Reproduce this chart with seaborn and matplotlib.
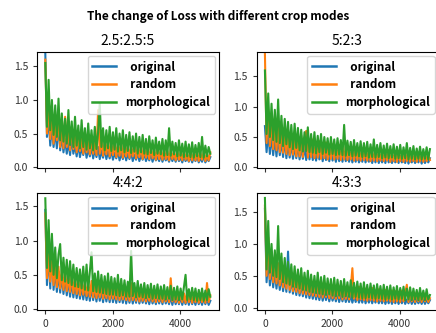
import numpy as np
import pandas as pd
import matplotlib
matplotlib.use("Agg")
import matplotlib.pyplot as plt
import seaborn as sns

plt.rcParams['font.family'] = ['Noto Sans CJK SC', 'DejaVu Sans']
plt.rcParams['axes.unicode_minus'] = False

# 迭代步数（每 49 步记录一次 loss）
steps = np.arange(101) * 49

modes = ["  original", "  random", "morphological"]
titles = ["2.5:2.5:5", "5:2:3", "4:4:2", "4:3:3"]

# 2.5:2.5:5
loss_a_original = [
    1.70, 0.45, 0.75, 0.32, 0.62, 0.30, 0.55, 0.28, 0.70, 0.25,
    0.48, 0.22, 0.42, 0.20, 0.38, 0.18, 0.45, 0.20, 0.33, 0.16,
    0.36, 0.15, 0.30, 0.18, 0.34, 0.14, 0.28, 0.16, 0.32, 0.13,
    0.27, 0.15, 0.30, 0.12, 0.25, 0.14, 0.29, 0.12, 0.24, 0.13,
    0.26, 0.11, 0.22, 0.13, 0.25, 0.10, 0.21, 0.12, 0.24, 0.10,
    0.20, 0.12, 0.23, 0.09, 0.19, 0.11, 0.22, 0.09, 0.18, 0.11,
    0.21, 0.09, 0.17, 0.10, 0.20, 0.08, 0.18, 0.10, 0.16, 0.09,
    0.19, 0.08, 0.17, 0.10, 0.15, 0.08, 0.18, 0.09, 0.16, 0.08,
    0.17, 0.09, 0.15, 0.07, 0.16, 0.09, 0.14, 0.08, 0.17, 0.07,
    0.15, 0.09, 0.16, 0.07, 0.14, 0.08, 0.17, 0.07, 0.13, 0.09,
    0.15]
loss_a_random = [
    1.60, 0.50, 0.95, 0.42, 0.80, 0.35, 0.68, 0.40, 0.75, 0.30,
    0.62, 0.28, 0.75, 0.30, 0.55, 0.25, 0.60, 0.27, 0.48, 0.22,
    0.50, 0.24, 0.45, 0.20, 0.52, 0.22, 0.42, 0.19, 0.46, 0.20,
    0.40, 0.18, 0.85, 0.20, 0.44, 0.17, 0.38, 0.19, 0.42, 0.16,
    0.36, 0.18, 0.40, 0.15, 0.34, 0.17, 0.38, 0.14, 0.33, 0.16,
    0.35, 0.14, 0.30, 0.16, 0.36, 0.13, 0.29, 0.15, 0.33, 0.12,
    0.30, 0.14, 0.27, 0.12, 0.31, 0.13, 0.26, 0.11, 0.29, 0.12,
    0.26, 0.11, 0.28, 0.12, 0.24, 0.10, 0.27, 0.12, 0.23, 0.10,
    0.25, 0.11, 0.22, 0.10, 0.26, 0.11, 0.21, 0.09, 0.24, 0.10,
    0.22, 0.10, 0.25, 0.09, 0.21, 0.11, 0.23, 0.09, 0.20, 0.10,
    0.22]
loss_a_morph = [
    1.55, 0.60, 1.30, 0.55, 1.00, 0.48, 0.92, 0.45, 1.02, 0.40,
    0.80, 0.38, 0.72, 0.35, 0.85, 0.33, 0.68, 0.30, 0.75, 0.32,
    0.62, 0.28, 0.70, 0.30, 0.58, 0.26, 0.65, 0.28, 0.55, 0.25,
    0.60, 0.27, 0.52, 0.95, 0.30, 0.58, 0.25, 0.55, 0.28, 0.60,
    0.24, 0.52, 0.26, 0.58, 0.23, 0.50, 0.25, 0.55, 0.22, 0.48,
    0.24, 0.52, 0.21, 0.46, 0.23, 0.50, 0.20, 0.45, 0.22, 0.48,
    0.20, 0.42, 0.19, 0.46, 0.21, 0.40, 0.18, 0.44, 0.20, 0.38,
    0.19, 0.42, 0.17, 0.40, 0.18, 0.58, 0.17, 0.38, 0.19, 0.36,
    0.16, 0.40, 0.17, 0.35, 0.15, 0.38, 0.16, 0.34, 0.15, 0.37,
    0.14, 0.33, 0.16, 0.36, 0.15, 0.45, 0.14, 0.32, 0.16, 0.30,
    0.20]

# 5:2:3
loss_b_original = [
    0.68, 0.25, 0.60, 0.22, 0.55, 0.20, 0.50, 0.18, 0.52, 0.20,
    0.45, 0.17, 0.48, 0.15, 0.40, 0.16, 0.42, 0.14, 0.36, 0.15,
    0.38, 0.13, 0.34, 0.14, 0.36, 0.12, 0.31, 0.13, 0.33, 0.12,
    0.30, 0.11, 0.28, 0.13, 0.32, 0.10, 0.27, 0.12, 0.30, 0.10,
    0.26, 0.11, 0.24, 0.09, 0.27, 0.10, 0.23, 0.09, 0.25, 0.10,
    0.22, 0.09, 0.24, 0.08, 0.21, 0.09, 0.23, 0.08, 0.20, 0.09,
    0.21, 0.08, 0.19, 0.09, 0.22, 0.07, 0.18, 0.08, 0.20, 0.07,
    0.19, 0.08, 0.17, 0.07, 0.20, 0.08, 0.16, 0.07, 0.18, 0.08,
    0.17, 0.07, 0.19, 0.08, 0.16, 0.07, 0.18, 0.06, 0.15, 0.08,
    0.17, 0.07, 0.15, 0.08, 0.16, 0.06, 0.17, 0.07, 0.14, 0.08,
    0.15]
loss_b_random = [
    1.87, 0.40, 0.95, 0.35, 0.85, 0.30, 0.80, 0.28, 0.75, 0.25,
    0.70, 0.24, 0.62, 0.22, 0.58, 0.20, 0.55, 0.21, 0.50, 0.18,
    0.48, 0.18, 0.52, 0.17, 0.45, 0.60, 0.16, 0.42, 0.17, 0.46,
    0.15, 0.40, 0.16, 0.43, 0.14, 0.38, 0.15, 0.41, 0.13, 0.36,
    0.14, 0.38, 0.13, 0.34, 0.14, 0.36, 0.12, 0.33, 0.13, 0.35,
    0.12, 0.32, 0.13, 0.30, 0.11, 0.33, 0.12, 0.29, 0.11, 0.31,
    0.12, 0.28, 0.11, 0.30, 0.10, 0.27, 0.11, 0.29, 0.10, 0.26,
    0.11, 0.27, 0.10, 0.25, 0.11, 0.28, 0.09, 0.24, 0.10, 0.26,
    0.09, 0.25, 0.10, 0.23, 0.09, 0.26, 0.10, 0.22, 0.09, 0.24,
    0.10, 0.22, 0.09, 0.24, 0.10, 0.21, 0.09, 0.23, 0.10, 0.20,
    0.12]
loss_b_morph = [
    1.60, 0.55, 1.22, 0.50, 1.05, 0.45, 0.95, 0.42, 1.12, 0.40,
    0.85, 0.35, 0.80, 0.38, 0.75, 0.33, 0.70, 0.30, 0.72, 0.32,
    0.65, 0.28, 0.62, 0.26, 0.58, 0.27, 0.66, 0.25, 0.55, 0.24,
    0.58, 0.23, 0.52, 0.25, 0.55, 0.22, 0.50, 0.24, 0.48, 0.21,
    0.50, 0.22, 0.46, 0.20, 0.48, 0.21, 0.45, 0.20, 0.70, 0.19,
    0.44, 0.20, 0.42, 0.18, 0.45, 0.19, 0.40, 0.18, 0.43, 0.17,
    0.40, 0.18, 0.42, 0.16, 0.38, 0.17, 0.46, 0.16, 0.37, 0.17,
    0.40, 0.15, 0.36, 0.16, 0.39, 0.15, 0.35, 0.16, 0.38, 0.14,
    0.34, 0.15, 0.37, 0.14, 0.33, 0.15, 0.40, 0.13, 0.32, 0.14,
    0.35, 0.13, 0.31, 0.14, 0.34, 0.13, 0.30, 0.14, 0.33, 0.13,
    0.30]

# 4:4:2
loss_c_original = [
    1.45, 0.35, 0.85, 0.30, 1.03, 0.28, 0.60, 0.25, 0.55, 0.24,
    0.50, 0.22, 0.48, 0.20, 0.45, 0.18, 0.42, 0.17, 0.38, 0.16,
    0.36, 0.15, 0.34, 0.14, 0.32, 0.13, 0.30, 0.12, 0.33, 0.13,
    0.29, 0.11, 0.30, 0.12, 0.27, 0.10, 0.28, 0.11, 0.26, 0.10,
    0.27, 0.10, 0.24, 0.09, 0.26, 0.10, 0.23, 0.09, 0.25, 0.08,
    0.22, 0.09, 0.24, 0.08, 0.21, 0.09, 0.23, 0.08, 0.20, 0.09,
    0.21, 0.08, 0.19, 0.07, 0.20, 0.08, 0.18, 0.07, 0.19, 0.08,
    0.18, 0.07, 0.20, 0.08, 0.17, 0.07, 0.19, 0.06, 0.18, 0.07,
    0.17, 0.07, 0.18, 0.06, 0.16, 0.07, 0.17, 0.06, 0.18, 0.07,
    0.16, 0.06, 0.17, 0.07, 0.15, 0.06, 0.16, 0.07, 0.15, 0.06,
    0.12]
loss_c_random = [
    1.40, 0.45, 0.80, 0.40, 0.70, 0.35, 0.65, 0.32, 0.62, 0.30,
    0.58, 0.28, 0.55, 0.26, 0.50, 0.25, 0.52, 0.23, 0.45, 0.22,
    0.44, 0.20, 0.42, 0.21, 0.40, 0.19, 0.38, 0.18, 0.41, 0.17,
    0.37, 0.16, 0.35, 0.17, 0.38, 0.15, 0.33, 0.16, 0.36, 0.14,
    0.33, 0.15, 0.31, 0.14, 0.34, 0.13, 0.30, 0.14, 0.32, 0.13,
    0.29, 0.12, 0.38, 0.13, 0.28, 0.12, 0.30, 0.11, 0.27, 0.12,
    0.28, 0.11, 0.26, 0.12, 0.29, 0.11, 0.25, 0.10, 0.27, 0.11,
    0.25, 0.10, 0.27, 0.11, 0.24, 0.10, 0.45, 0.11, 0.26, 0.10,
    0.24, 0.09, 0.25, 0.10, 0.23, 0.09, 0.26, 0.10, 0.22, 0.09,
    0.24, 0.10, 0.21, 0.09, 0.23, 0.10, 0.22, 0.09, 0.38, 0.10,
    0.20]
loss_c_morph = [
    1.62, 0.60, 1.30, 0.55, 1.10, 0.50, 0.90, 0.45, 0.80, 0.95,
    0.42, 0.75, 0.40, 0.72, 0.38, 0.70, 0.35, 0.65, 0.33, 0.60,
    0.32, 0.58, 0.30, 0.62, 0.28, 0.65, 0.27, 0.55, 0.83, 0.26,
    0.52, 0.25, 0.55, 0.24, 0.50, 0.23, 0.48, 0.22, 0.52, 0.21,
    0.47, 0.21, 0.45, 0.20, 0.50, 0.19, 0.44, 0.20, 0.42, 0.18,
    0.40, 0.18, 0.85, 0.19, 0.38, 0.17, 0.41, 0.18, 0.36, 0.17,
    0.38, 0.16, 0.35, 0.17, 0.37, 0.15, 0.34, 0.16, 0.36, 0.15,
    0.33, 0.15, 0.35, 0.14, 0.32, 0.15, 0.34, 0.13, 0.31, 0.14,
    0.33, 0.13, 0.30, 0.14, 0.32, 0.50, 0.13, 0.29, 0.14, 0.31,
    0.13, 0.30, 0.12, 0.28, 0.13, 0.30, 0.12, 0.27, 0.13, 0.29,
    0.18]

# 4:3:3
loss_d_original = [
    1.55, 0.40, 0.80, 0.35, 0.65, 0.32, 0.58, 0.30, 0.55, 0.28,
    0.52, 0.26, 0.48, 0.25, 0.88, 0.24, 0.45, 0.22, 0.42, 0.20,
    0.40, 0.19, 0.36, 0.18, 0.34, 0.16, 0.32, 0.15, 0.30, 0.14,
    0.28, 0.13, 0.26, 0.12, 0.27, 0.11, 0.25, 0.12, 0.24, 0.10,
    0.23, 0.11, 0.22, 0.10, 0.24, 0.09, 0.21, 0.10, 0.22, 0.09,
    0.20, 0.09, 0.21, 0.08, 0.19, 0.09, 0.20, 0.08, 0.18, 0.08,
    0.19, 0.07, 0.17, 0.08, 0.18, 0.07, 0.16, 0.08, 0.17, 0.07,
    0.16, 0.07, 0.17, 0.06, 0.15, 0.07, 0.16, 0.06, 0.15, 0.07,
    0.15, 0.06, 0.14, 0.07, 0.16, 0.06, 0.13, 0.07, 0.15, 0.06,
    0.14, 0.06, 0.15, 0.07, 0.13, 0.06, 0.14, 0.06, 0.13, 0.07,
    0.12]
loss_d_random = [
    1.60, 0.50, 1.10, 0.45, 0.85, 0.40, 0.75, 0.38, 0.70, 0.35,
    0.65, 0.32, 0.60, 0.30, 0.58, 0.28, 0.55, 0.26, 0.52, 0.25,
    0.48, 0.23, 0.50, 0.22, 0.45, 0.21, 0.42, 0.20, 0.44, 0.19,
    0.40, 0.18, 0.38, 0.17, 0.41, 0.16, 0.36, 0.17, 0.38, 0.15,
    0.35, 0.15, 0.37, 0.14, 0.33, 0.15, 0.36, 0.13, 0.32, 0.14,
    0.34, 0.13, 0.30, 0.62, 0.14, 0.31, 0.12, 0.33, 0.13, 0.29,
    0.12, 0.30, 0.11, 0.28, 0.12, 0.31, 0.11, 0.27, 0.10, 0.29,
    0.11, 0.27, 0.10, 0.28, 0.11, 0.25, 0.10, 0.27, 0.09, 0.26,
    0.10, 0.25, 0.09, 0.27, 0.10, 0.24, 0.36, 0.09, 0.25, 0.10,
    0.23, 0.09, 0.25, 0.10, 0.22, 0.09, 0.24, 0.10, 0.21, 0.09,
    0.15]
loss_d_morph = [
    1.72, 0.60, 1.36, 0.55, 1.00, 0.50, 0.90, 0.48, 1.28, 0.45,
    0.85, 0.40, 0.78, 0.38, 0.72, 0.36, 0.68, 0.33, 0.65, 0.32,
    0.60, 0.30, 0.62, 0.28, 0.55, 0.27, 0.58, 0.25, 0.52, 0.24,
    0.50, 0.23, 0.55, 0.22, 0.48, 0.21, 0.50, 0.20, 0.46, 0.21,
    0.45, 0.19, 0.47, 0.18, 0.44, 0.19, 0.42, 0.17, 0.45, 0.18,
    0.40, 0.17, 0.43, 0.16, 0.39, 0.17, 0.41, 0.16, 0.38, 0.15,
    0.40, 0.15, 0.36, 0.16, 0.38, 0.15, 0.35, 0.14, 0.37, 0.15,
    0.34, 0.14, 0.36, 0.13, 0.33, 0.14, 0.35, 0.13, 0.32, 0.14,
    0.34, 0.13, 0.31, 0.14, 0.33, 0.12, 0.30, 0.13, 0.32, 0.12,
    0.30, 0.13, 0.28, 0.12, 0.31, 0.13, 0.27, 0.12, 0.29, 0.13,
    0.20]

all_losses = [
    (loss_a_original, loss_a_random, loss_a_morph),
    (loss_b_original, loss_b_random, loss_b_morph),
    (loss_c_original, loss_c_random, loss_c_morph),
    (loss_d_original, loss_d_random, loss_d_morph),
]
ylims = [(-0.02, 1.71), (-0.02, 1.90), (-0.01, 1.69), (-0.03, 1.79)]

fig, axes = plt.subplots(2, 2, figsize=(4.36, 3.33), dpi=100)
fig.subplots_adjust(left=0.085, right=1.005, top=0.843, bottom=0.07,
                    wspace=0.21, hspace=0.215)

for ax, title, losses, yl in zip(axes.flat, titles, all_losses, ylims):
    df = pd.concat([
        pd.DataFrame({"step": steps, "loss": vals, "mode": m})
        for m, vals in zip(modes, losses)
    ])
    sns.lineplot(data=df, x="step", y="loss", hue="mode", hue_order=modes,
                 palette="tab10", linewidth=1.5, ax=ax)
    ax.set_title(title, fontsize=10, pad=5)
    ax.set_xlabel("")
    ax.set_ylabel("")
    ax.set_ylim(*yl)
    ax.set_xticks([0, 2000, 4000])
    ax.set_yticks([0.0, 0.5, 1.0, 1.5])
    ax.tick_params(labelsize=7.5, length=3, colors="#333333")
    leg = ax.legend(loc="upper right", prop={"weight": "bold", "size": 8.5},
                    labelspacing=0.4, borderaxespad=0.3, handlelength=2.0)
    for line in leg.get_lines():
        line.set_linewidth(1.8)

axes[0, 0].set_xticklabels([])
axes[0, 1].set_xticklabels([])

fig.suptitle("The change of Loss with different crop modes", fontsize=8.5,
             fontweight="bold", y=0.97)

plt.savefig("out.png", dpi=100)
